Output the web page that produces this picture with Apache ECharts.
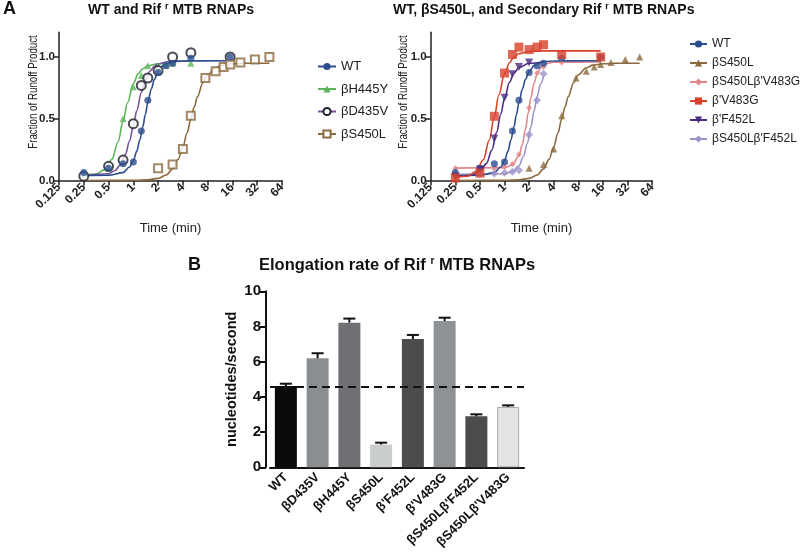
<!DOCTYPE html>
<html><head><meta charset="utf-8">
<script src="https://cdn.jsdelivr.net/npm/echarts@6/dist/echarts.min.js"></script>
<style>html,body{margin:0;padding:0;background:#fff}#c{width:800px;height:556px}</style>
</head><body><div id="c"></div>
<script>
const FONT = "'Liberation Sans', Arial, Helvetica, sans-serif";

// ---------- Panel A data (time in min, fraction of runoff product) ----------
const timeTicks = [0.125, 0.25, 0.5, 1, 2, 4, 8, 16, 32, 64];
const fracTicks = [0, 0.5, 1];

const wtPts = [[0.25,0.065],[0.5,0.10],[0.75,0.135],[1,0.15],[1.25,0.40],[1.5,0.65],[2,0.875],[2.5,0.93],[3,0.95],[5,0.99],[15,1.0]];
const h445yPts = [[0.25,0.05],[0.5,0.10],[0.75,0.50],[1,0.76],[1.25,0.85],[1.5,0.93],[2,0.93],[2.5,0.935],[3,0.95],[5,0.95]];
const d435vPts = [[0.25,0.035],[0.5,0.115],[0.75,0.165],[1,0.46],[1.25,0.77],[1.5,0.83],[2,0.89],[3,1.0],[5,1.035],[15,1.0]];
const s450lPts = [[2,0.10],[3,0.13],[4,0.255],[5,0.525],[7.5,0.83],[10,0.885],[12.5,0.92],[15,0.94],[20,0.955],[30,0.98],[45,1.0]];
const v483gPts = [[0.25,0.02],[0.5,0.06],[0.75,0.52],[1,0.87],[1.25,1.02],[1.5,1.08],[2,1.06],[2.5,1.08],[3,1.1],[5,1.02],[15,1.0]];
const f452lPts = [[0.25,0.03],[0.5,0.09],[0.75,0.34],[1,0.67],[1.25,0.86],[1.5,0.92],[2,0.955]];
const s450lV483gPts = [[0.25,0.10],[0.5,0.11],[0.75,0.10],[1,0.11],[1.25,0.134],[1.5,0.21],[2,0.59],[2.5,0.87],[3,0.92],[5,0.955]];
const s450lF452lPts = [[0.25,0.05],[0.5,0.05],[0.75,0.056],[1,0.062],[1.25,0.07],[1.5,0.083],[2,0.37],[2.5,0.65],[3,0.865]];

// fitted curves
const wtFit = [[0.25,0.04],[0.5,0.042],[0.75,0.064],[0.9,0.109],[1,0.162],[1.1,0.236],[1.2,0.329],[1.3,0.432],[1.4,0.535],[1.5,0.629],[1.65,0.74],[1.8,0.818],[2,0.883],[2.3,0.93],[2.7,0.954],[3.2,0.964],[4,0.968],[15,0.97]];
const h445yFit = [[0.25,0.042],[0.35,0.053],[0.45,0.088],[0.55,0.171],[0.65,0.31],[0.75,0.479],[0.85,0.63],[1,0.785],[1.15,0.865],[1.3,0.905],[1.5,0.929],[2,0.945],[3,0.95]];
const d435vFit = [[0.25,0.04],[0.5,0.055],[0.6,0.081],[0.7,0.13],[0.8,0.21],[0.9,0.32],[1,0.443],[1.1,0.565],[1.25,0.712],[1.4,0.81],[1.6,0.887],[1.8,0.925],[2,0.944],[2.5,0.96],[3,0.967],[5,0.97]];
const s450lFit = [[0.25,0],[1,0.001],[1.5,0.005],[2,0.017],[2.5,0.044],[3,0.094],[3.5,0.171],[4,0.272],[4.5,0.385],[5,0.497],[5.5,0.596],[6,0.678],[7,0.792],[8,0.856],[10,0.913],[12,0.934],[16,0.945],[24,0.95],[45,0.95]];
const v483gFit = [[0.25,0.022],[0.35,0.034],[0.45,0.074],[0.55,0.168],[0.65,0.326],[0.75,0.516],[0.85,0.69],[1,0.863],[1.15,0.954],[1.3,0.999],[1.5,1.026],[2,1.045],[3,1.05],[15,1.05]];
const f452lFit = [[0.25,0.03],[0.4,0.043],[0.5,0.072],[0.6,0.137],[0.7,0.246],[0.8,0.39],[0.9,0.538],[1,0.665],[1.15,0.795],[1.3,0.868],[1.5,0.915],[2,0.95],[3,0.96]];
const s450lV483gFit = [[0.25,0.1],[1,0.104],[1.25,0.126],[1.5,0.201],[1.65,0.291],[1.8,0.413],[1.95,0.548],[2.1,0.67],[2.3,0.79],[2.5,0.864],[2.8,0.918],[3.2,0.945],[4,0.957],[15,0.96]];
const s450lF452lFit = [[0.25,0.05],[1,0.055],[1.25,0.072],[1.5,0.119],[1.7,0.192],[1.9,0.30],[2.1,0.433],[2.3,0.565],[2.5,0.677],[2.75,0.779],[3,0.845]];

// ---------- Panel B data ----------
const barCats = ['WT','βD435V','βH445Y','βS450L',"β'F452L","β'V483G","βS450Lβ'F452L","βS450Lβ'V483G"];
const rates = [4.62, 6.19, 8.22, 1.29, 7.29, 8.31, 2.90, 3.43];
const sem = [0.13, 0.29, 0.23, 0.11, 0.23, 0.19, 0.11, 0.09];
const wtRate = 4.6;

// ---------- styles ----------
const C = {wt:'#2b4d8e', h445y:'#5db55a', d435v:'#7b4fa0', s450l:'#8b6a3f', v483g:'#d9412b', f452l:'#4b2c82', pink:'#e3868a', lav:'#9e92c9'};
const barColors = ['#0b0b0b','#8b8e91','#6e7073','#c9cdcd','#4a4c4d','#8f9295','#4a4c4d','#e3e5e5'];

function fmtT(v){ return String(+Number(v).toPrecision(6)); }

function topX(idx){
  return {type:'log', logBase:2, min:0.125, max:64, gridIndex:idx,
    axisLine:{lineStyle:{color:'#222', width:1.5}},
    axisTick:{show:true, length:5, inside:false, customValues: timeTicks, lineStyle:{color:'#222', width:1.5}},
    axisLabel:{rotate:45, fontSize:12, fontWeight:'bold', color:'#222', fontFamily:FONT, margin:5, customValues: timeTicks, formatter: fmtT},
    splitLine:{show:false}, minorTick:{show:false},
    name:'Time (min)', nameLocation:'middle', nameGap:41, nameTextStyle:{fontSize:13, color:'#222', fontFamily:FONT}};
}
function topY(idx){
  return {type:'value', min:0, max:1.2, gridIndex:idx,
    axisLine:{show:true, lineStyle:{color:'#222', width:1.5}},
    axisTick:{show:true, length:5, customValues: fracTicks, lineStyle:{color:'#222', width:1.5}},
    axisLabel:{fontSize:11.5, fontWeight:'bold', color:'#222', fontFamily:FONT, margin:4, customValues: fracTicks, formatter: v => Number(v).toFixed(1)},
    splitLine:{show:false}};
}
function fitLine(name, data, color, symbol, symColor, idx, rot){
  return {type:'line', name, data, xAxisIndex:idx, yAxisIndex:idx, smooth:0.35, smoothMonotone:'x',
    showSymbol:false, symbol, symbolRotate: rot||0, lineStyle:{color, width:1.6}, itemStyle:{color: symColor||color},
    silent:true, z:2};
}
function pts(name, data, color, symbol, size, idx, rot, empty){
  const s = {type:'scatter', name, data, xAxisIndex:idx, yAxisIndex:idx, symbol, symbolSize:size, symbolRotate: rot||0,
    itemStyle:{color}, z:3};
  if (empty) s.itemStyle = {color, borderColor: color, borderWidth:1.6};
  return s;
}

const series = [
  // left panel
  fitLine('βH445Y', h445yFit, C.h445y, 'triangle', null, 0),
  fitLine('βD435V', d435vFit, C.d435v, 'emptyCircle', '#1e1e2a', 0),
  fitLine('βS450L', s450lFit, C.s450l, 'emptyRect', null, 0),
  fitLine('WT', wtFit, C.wt, 'circle', null, 0),
  pts('βH445Y', h445yPts, C.h445y, 'triangle', 7, 0),
  pts('βD435V', d435vPts, '#1e1e2a', 'emptyCircle', 9, 0, 0, true),
  pts('βS450L', s450lPts, C.s450l, 'emptyRect', 8, 0, 0, true),
  pts('WT', wtPts, C.wt, 'circle', 7, 0),
  // right panel
  fitLine('βS450L (B)', s450lFit, C.s450l, 'triangle', null, 1),
  fitLine("βS450Lβ'V483G", s450lV483gFit, C.pink, 'diamond', null, 1),
  fitLine("βS450Lβ'F452L", s450lF452lFit, C.lav, 'diamond', null, 1),
  fitLine('WT', wtFit, C.wt, 'circle', null, 1),
  fitLine("β'F452L", f452lFit, C.f452l, 'triangle', null, 1, 180),
  fitLine("β'V483G", v483gFit, C.v483g, 'rect', null, 1),
  pts('βS450L (B)', s450lPts, C.s450l, 'triangle', 7, 1),
  pts("βS450Lβ'V483G", s450lV483gPts, C.pink, 'diamond', 6, 1),
  pts("βS450Lβ'F452L", s450lF452lPts, C.lav, 'diamond', 8, 1),
  pts('WT', wtPts, C.wt, 'circle', 7, 1),
  pts("β'F452L", f452lPts, C.f452l, 'triangle', 8, 1, 180),
  pts("β'V483G", v483gPts, C.v483g, 'rect', 9, 1),
  // panel B
  {type:'bar', name:'rate', xAxisIndex:2, yAxisIndex:2, barWidth:22,
    data: rates.map((v,i)=>({value:v, itemStyle:{color:barColors[i], borderColor: i===7?'#a8aaaa':barColors[i], borderWidth: i===7?1:0}})),
    markLine:{silent:true, symbol:'none', label:{show:false}, z:5,
      lineStyle:{color:'#111', width:2, type:[8,5]}, data:[{yAxis: wtRate}]}},
  {type:'custom', name:'sem', xAxisIndex:2, yAxisIndex:2, z:4,
    data: rates.map((v,i)=>[i, v, v+sem[i]]), encode:{x:0, y:[1,2]},
    renderItem(params, api){
      const i = api.value(0);
      const lo = api.coord([i, api.value(1)]);
      const hi = api.coord([i, api.value(2)]);
      const hw = 6;
      return {type:'group', children:[
        {type:'line', shape:{x1:lo[0], y1:lo[1], x2:hi[0], y2:hi[1]}, style:{stroke:'#111', lineWidth:2}},
        {type:'line', shape:{x1:hi[0]-hw, y1:hi[1], x2:hi[0]+hw, y2:hi[1]}, style:{stroke:'#111', lineWidth:2}}
      ]};
    }}
];

const titleRich = (size) => ({
  fontSize:size, fontWeight:'bold', color:'#111', fontFamily:FONT,
  rich:{ sup:{fontSize: Math.round(size*0.62), fontWeight:'bold', color:'#111', fontFamily:FONT, verticalAlign:'top', lineHeight: size*1.2} }
});

const yName = (x) => ({type:'text', x, y:92, rotation:Math.PI/2, scaleX:0.78,
  style:{text:'Fraction of Runoff Product', fontSize:12.5, fill:'#222', fontFamily:FONT, align:'center', verticalAlign:'middle'}});

const option = {
  animation:false,
  backgroundColor:'#fff',
  textStyle:{fontFamily:FONT},
  title:[
    {text:'A', left:3, top:0, padding:0, textStyle:{fontSize:18, fontWeight:'bold', color:'#111', fontFamily:FONT}},
    {text:'WT and Rif {sup|r} MTB RNAPs', left:88, top:2, padding:0, textStyle:titleRich(14)},
    {text:'WT, βS450L, and Secondary Rif {sup|r} MTB RNAPs', left:393, top:2, padding:0, textStyle:titleRich(14)},
    {text:'B', left:188, top:256, padding:0, textStyle:{fontSize:18, fontWeight:'bold', color:'#111', fontFamily:FONT}},
    {text:'Elongation rate of Rif {sup|r} MTB RNAPs', left:259, top:256, padding:0, textStyle:titleRich(16.5)}
  ],
  legend:[
    {orient:'vertical', left:317, top:60, padding:0, itemWidth:18, itemHeight:9, itemGap:9.5,
      data:['WT','βH445Y','βD435V','βS450L'],
      textStyle:{fontSize:13, color:'#222', fontFamily:FONT}, selectedMode:false},
    {orient:'vertical', left:689, top:38, padding:0, itemWidth:17, itemHeight:9, itemGap:7,
      data:['WT','βS450L (B)',"βS450Lβ'V483G","β'V483G","β'F452L","βS450Lβ'F452L"],
      formatter: n => n.replace(' (B)',''),
      textStyle:{fontSize:12, color:'#222', fontFamily:FONT}, selectedMode:false}
  ],
  grid:[
    {left:59, top:32.3, width:223, height:148.2},
    {left:430.7, top:32.3, width:221.5, height:148.2},
    {left:270, top:291.3, width:254, height:176}
  ],
  xAxis:[
    topX(0), topX(1),
    {type:'category', gridIndex:2, data:barCats,
      axisLine:{lineStyle:{color:'#111', width:2}},
      axisTick:{alignWithLabel:true, length:5, lineStyle:{color:'#111', width:2}},
      axisLabel:{rotate:45, interval:0, fontSize:13, fontWeight:'bold', color:'#111', fontFamily:FONT, margin:8}}
  ],
  yAxis:[
    topY(0), topY(1),
    {type:'value', gridIndex:2, min:0, max:10, interval:2, offset:4,
      axisLine:{show:true, lineStyle:{color:'#111', width:2}},
      axisTick:{show:true, length:6, lineStyle:{color:'#111', width:2}},
      axisLabel:{fontSize:15, fontWeight:'bold', color:'#111', fontFamily:FONT, margin:5},
      splitLine:{show:false},
      name:'nucleotides/second', nameLocation:'middle', nameGap:27,
      nameTextStyle:{fontSize:14.5, fontWeight:'bold', color:'#111', fontFamily:FONT}}
  ],
  graphic:[ yName(34), yName(404) ],
  series
};

const chart = echarts.init(document.getElementById('c'), null, {renderer:'canvas'});
chart.setOption(option);
</script>
</body></html>
